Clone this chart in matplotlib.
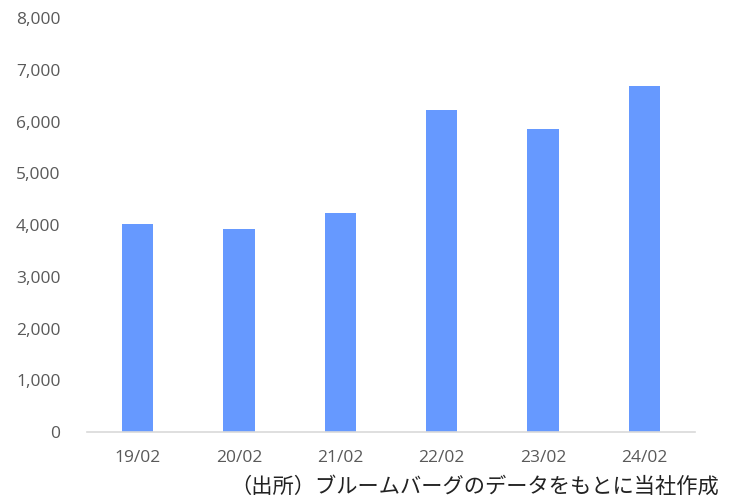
import matplotlib.pyplot as plt
from matplotlib.ticker import FuncFormatter

plt.rcParams['font.family'] = ['Noto Sans CJK JP', 'DejaVu Sans']

categories = ['19/02', '20/02', '21/02', '22/02', '23/02', '24/02']
values = [4020, 3920, 4230, 6220, 5850, 6690]
yticks = [0, 1000, 2000, 3000, 4000, 5000, 6000, 7000, 8000]
source = '（出所）ブルームバーグのデータをもとに当社作成'

fig = plt.figure(figsize=(7.37, 4.99), dpi=100)
ax = fig.add_axes([0.118, 0.134, 0.825, 0.830])

ax.bar(range(len(categories)), values, width=0.31, color='#6699ff')
ax.set_xlim(-0.5, len(categories) - 0.5)
ax.set_ylim(0, 8000)
ax.set_yticks(yticks)
ax.yaxis.set_major_formatter(FuncFormatter(lambda v, p: f'{int(v):,}'))
ax.set_xticks(range(len(categories)))
ax.set_xticklabels(categories)

for s in ['top', 'right', 'left']:
    ax.spines[s].set_visible(False)
ax.spines['bottom'].set_color('#d9d9d9')
ax.spines['bottom'].set_linewidth(1.2)
ax.tick_params(axis='both', length=0, labelsize=12.5, colors='#595959')
ax.tick_params(axis='x', pad=13)
ax.tick_params(axis='y', pad=19)
for lab in ax.get_xticklabels() + ax.get_yticklabels():
    lab.set_family(['Open Sans', 'DejaVu Sans'])

fig.text(0.975, 0.024, source, ha='right', va='center', fontsize=15.3, color='#222222')

fig.savefig('out.png', dpi=100, facecolor='white')
